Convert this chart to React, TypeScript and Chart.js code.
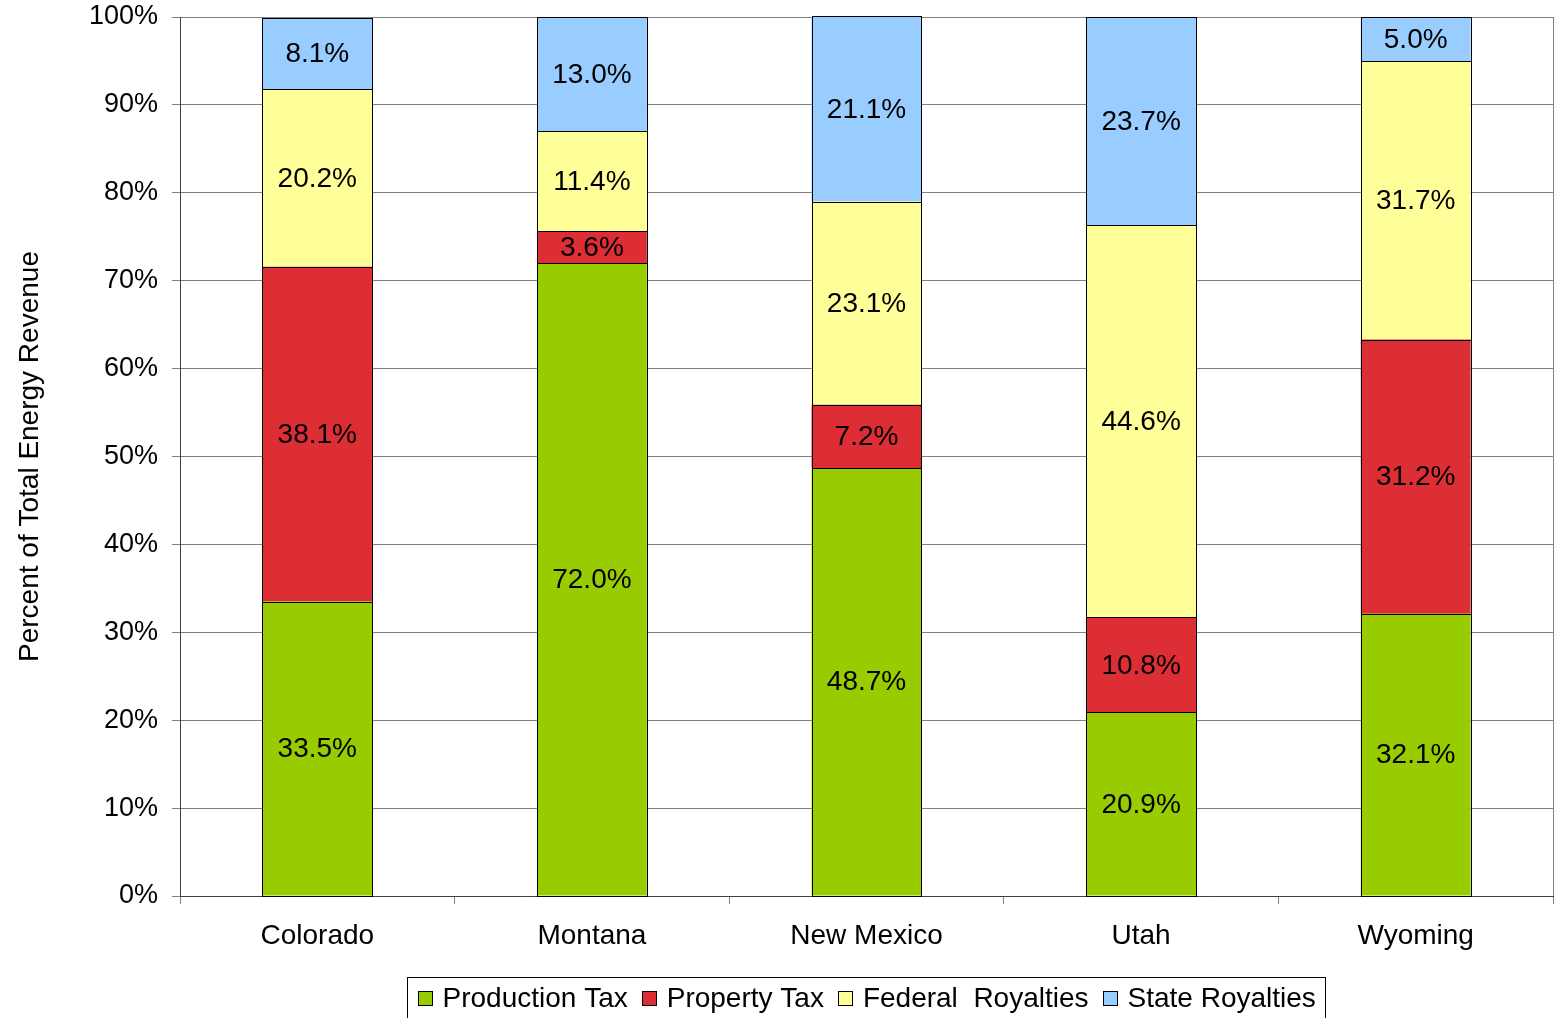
import React, { useEffect, useRef } from "react";
import { Chart, registerables } from "chart.js";

Chart.register(...registerables);

const categories = ["Colorado", "Montana", "New Mexico", "Utah", "Wyoming"];
const seriesNames = ["Production Tax", "Property Tax", "Federal  Royalties", "State Royalties"];
const productionTax = [33.5, 72.0, 48.7, 20.9, 32.1];
const propertyTax = [38.1, 3.6, 7.2, 10.8, 31.2];
const federalRoyalties = [20.2, 11.4, 23.1, 44.6, 31.7];
const stateRoyalties = [8.1, 13.0, 21.1, 23.7, 5.0];
const seriesColors = ["#99CC00", "#DD2D35", "#FFFF99", "#99CCFF"];
const yTicks = [0, 10, 20, 30, 40, 50, 60, 70, 80, 90, 100];
const yTitle = "Percent of Total Energy Revenue";

const FONT = "'Liberation Sans', Arial, sans-serif";
const FS = 28;
const FS_Y = 27;

const dataLabelsPlugin = {
  id: "dataLabels",
  afterDatasetsDraw(chart: any) {
    const ctx = chart.ctx;
    ctx.save();
    ctx.strokeStyle = "#000";
    ctx.lineWidth = 1;
    chart.data.datasets.forEach((ds: any, di: number) => {
      const meta = chart.getDatasetMeta(di);
      meta.data.forEach((bar: any) => {
        const l = Math.round(bar.x - bar.width / 2) + 0.5;
        const r = Math.round(bar.x + bar.width / 2) + 0.5;
        const t = Math.round(Math.min(bar.y, bar.base)) + 0.5;
        const b = Math.round(Math.max(bar.y, bar.base)) + 0.5;
        ctx.strokeRect(l, t, r - l, b - t);
      });
    });
    ctx.font = `${FS}px ${FONT}`;
    ctx.fillStyle = "#000";
    ctx.textAlign = "center";
    ctx.textBaseline = "middle";
    chart.data.datasets.forEach((ds: any, di: number) => {
      const meta = chart.getDatasetMeta(di);
      meta.data.forEach((bar: any, i: number) => {
        const v = ds.data[i];
        const yc = (bar.y + bar.base) / 2;
        ctx.fillText(v.toFixed(1) + "%", bar.x, yc + 1);
      });
    });
    ctx.restore();
  },
};

const framePlugin = {
  id: "frame",
  afterDraw(chart: any) {
    const ctx = chart.ctx;
    const a = chart.chartArea;
    ctx.save();
    ctx.strokeStyle = "#808080";
    ctx.lineWidth = 1;
    ctx.beginPath();
    ctx.moveTo(Math.round(a.right) + 0.5, a.top);
    ctx.lineTo(Math.round(a.right) + 0.5, a.bottom);
    ctx.stroke();

    // legend
    ctx.font = `${FS}px ${FONT}`;
    const sq = 15;
    const gapText = 10;
    const gapItem = 14;
    const padL = 10;
    const padR = 10;
    const widths = seriesNames.map((n) => ctx.measureText(n).width);
    let total = padL + padR;
    widths.forEach((w, i) => {
      total += sq + gapText + w + (i < widths.length - 1 ? gapItem : 0);
    });
    const cx = (a.left + a.right) / 2;
    const bx = Math.round(cx - total / 2) + 0.5;
    const by = 977.5;
    const bh = 50;
    ctx.strokeStyle = "#000";
    ctx.strokeRect(bx, by, Math.round(total), bh);
    let x = bx + padL;
    const yMid = 998;
    ctx.textBaseline = "middle";
    ctx.textAlign = "left";
    seriesNames.forEach((n, i) => {
      ctx.fillStyle = seriesColors[i];
      ctx.fillRect(Math.round(x), yMid - 7, sq, sq);
      ctx.strokeStyle = "#000";
      ctx.strokeRect(Math.round(x) + 0.5, yMid - 7 + 0.5, sq - 1, sq - 1);
      x += sq + gapText;
      ctx.fillStyle = "#000";
      ctx.fillText(n, x, yMid + 1);
      x += widths[i] + gapItem;
    });
    ctx.restore();
  },
};

export default function App() {
  const ref = useRef<HTMLCanvasElement>(null);
  useEffect(() => {
    if (!ref.current) return;
    const seriesData = [productionTax, propertyTax, federalRoyalties, stateRoyalties];
    const chart = new Chart(ref.current, {
      type: "bar",
      data: {
        labels: categories,
        datasets: seriesNames.map((name, i) => ({
          label: name,
          data: seriesData[i],
          backgroundColor: seriesColors[i],
          borderWidth: 0,
          categoryPercentage: 1,
          barPercentage: 0.4,
        })),
      },
      options: {
        responsive: false,
        animation: false,
        devicePixelRatio: 1,
        layout: { padding: { top: 17, right: 2, bottom: 0, left: 0 } },
        plugins: {
          legend: { display: false },
          tooltip: { enabled: false },
        },
        scales: {
          x: {
            stacked: true,
            offset: true,
            grid: {
              offset: true,
              drawOnChartArea: false,
              drawTicks: true,
              tickLength: 8,
              color: "#808080",
            },
            border: { display: true, color: "#404040" },
            ticks: {
              font: { family: FONT, size: FS },
              color: "#000",
              padding: 15,
            },
            afterFit: (s: any) => {
              s.height = 122;
              s.paddingLeft = 0;
              s.paddingRight = 0;
            },
          },
          y: {
            stacked: true,
            min: 0,
            max: 100,
            afterBuildTicks: (s: any) => {
              s.ticks = yTicks.map((v) => ({ value: v }));
            },
            grid: {
              color: "#808080",
              drawTicks: true,
              tickLength: 8,
            },
            border: { display: true, color: "#404040" },
            ticks: {
              font: { family: FONT, size: FS_Y },
              color: "#000",
              padding: 14,
              callback: (v: any) => v + "%",
            },
            title: {
              display: true,
              text: yTitle,
              font: { family: FONT, size: FS },
              color: "#000",
              padding: { top: 13, bottom: 0 },
            },
            afterFit: (s: any) => {
              s.width = 180;
              s.paddingTop = 0;
              s.paddingBottom = 0;
            },
          },
        },
      },
      plugins: [dataLabelsPlugin, framePlugin],
    });
    return () => chart.destroy();
  }, []);
  return (
    <div style={{ position: "absolute", left: 0, top: 0, width: 1555, height: 1018, background: "#fff" }}>
      <canvas ref={ref} width={1555} height={1018} style={{ display: "block" }} />
    </div>
  );
}
